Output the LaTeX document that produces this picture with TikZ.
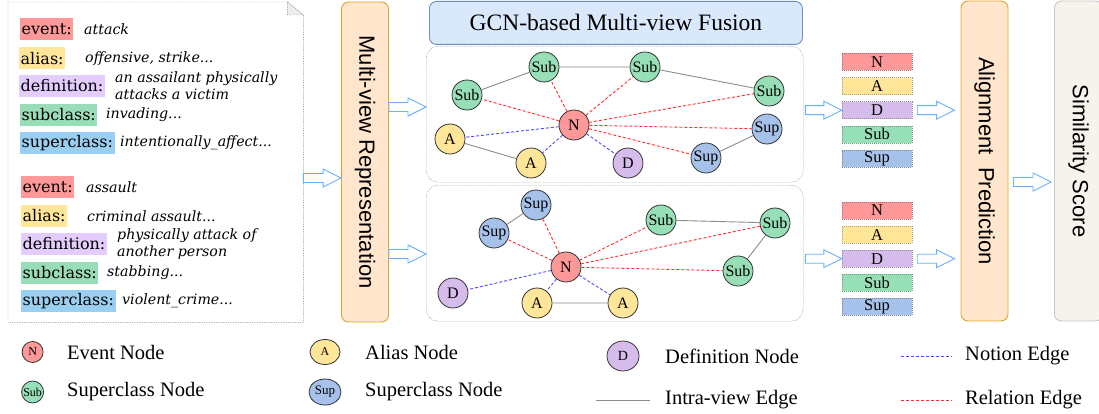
\documentclass[tikz,border=0pt]{standalone}
\usepackage{fontspec}
\setmainfont{Liberation Serif}
\setsansfont{Liberation Sans}
\newfontfamily\geofont{DejaVu Serif}
\usepackage{graphicx}
\usetikzlibrary{positioning,calc,shapes.geometric}
\definecolor{EvRed}{HTML}{FF9999}
\definecolor{AlYel}{HTML}{FFE699}
\definecolor{DefPur}{HTML}{E5CCFF}
\definecolor{SubGrn}{HTML}{99DDB8}
\definecolor{SupSky}{HTML}{9ACFF2}
\definecolor{NodeD}{HTML}{D5BCEB}
\definecolor{NodeSub}{HTML}{97DFB6}
\definecolor{NodeSup}{HTML}{A6C2EA}
\definecolor{StageFill}{HTML}{FFE6CC}
\definecolor{StageLine}{HTML}{DDA52A}
\definecolor{ScoreFill}{HTML}{F5F3EC}
\definecolor{ScoreLine}{HTML}{C8C8C8}
\definecolor{HeadFill}{HTML}{DAE8FC}
\definecolor{HeadLine}{HTML}{6C8EBF}
\definecolor{ArrBlue}{HTML}{66B2FF}
\definecolor{EdgeGray}{HTML}{8C8C8C}
\definecolor{RelRed}{HTML}{FF2E2E}
\definecolor{NotBlue}{HTML}{4A4AFF}
\definecolor{FrameGray}{HTML}{8A8A8A}

% hollow block arrow between two x positions, at the height of #3
\newcommand{\flexarr}[3]{%
  \draw[flexa] let \p1=(#1), \p2=(#2), \p3=(#3) in
    (\x1,\y3+4.5pt) -- (\x2-18pt,\y3+4.5pt) -- (\x2-18pt,\y3+9pt) -- (\x2,\y3)
    -- (\x2-18pt,\y3-9pt) -- (\x2-18pt,\y3-4.5pt) -- (\x1,\y3-4.5pt) -- cycle;}

\begin{document}
\begin{tikzpicture}[x=1pt,y=-1pt,
  lbl/.style={anchor=west,inner xsep=1.5pt,inner ysep=0pt,minimum height=22,font=\geofont\fontsize{16}{17}\selectfont},
  desc/.style={anchor=west,align=left,inner sep=0pt,font=\geofont\itshape\fontsize{14.2}{17}\selectfont},
  stage/.style={draw=StageLine,fill=StageFill,rounded corners=7pt,line width=0.9pt,minimum width=47,minimum height=320,inner sep=0pt,font=\sffamily\fontsize{22}{24}\selectfont},
  gbox/.style={draw=FrameGray,dash pattern=on 1.2pt off 1.2pt,rounded corners=12pt,minimum width=377,minimum height=136,anchor=north west,inner sep=0pt},
  gn/.style={circle,draw=black!80,line width=0.8pt,minimum size=30,inner sep=0pt,font=\fontsize{16}{16}\selectfont},
  stk/.style={dash pattern=on 1pt off 1pt,minimum width=70,minimum height=17,inner sep=0pt,font=\fontsize{16.5}{16.5}\selectfont},
  intra/.style={draw=EdgeGray,line width=0.9pt},
  rel/.style={draw=RelRed,line width=0.9pt,dash pattern=on 3pt off 2pt},
  notion/.style={draw=NotBlue,line width=0.9pt,dash pattern=on 3pt off 2pt},
  flexa/.style={draw=ArrBlue,fill=white,line width=0.9pt,line join=miter},
  legtxt/.style={anchor=west,inner sep=0pt,font=\fontsize{20.5}{22}\selectfont}
]
\useasboundingbox (0,0) rectangle (1099,414);

% input concepts
\node[minimum width=295,minimum height=320,anchor=north west,inner sep=0pt] (doc) at (8,2) {};
\draw[draw=FrameGray,dash pattern=on 1.2pt off 1.2pt] (doc.north west) -- ([xshift=-16pt]doc.north east)
  -- ([yshift=-13pt]doc.north east) -- (doc.south east) -- (doc.south west) -- cycle;
\filldraw[draw=FrameGray,fill=black!7,dash pattern=on 1.2pt off 1.2pt] ([xshift=-16pt]doc.north east)
  -- ([xshift=-16pt,yshift=-13pt]doc.north east) -- ([yshift=-13pt]doc.north east) -- cycle;

\node[lbl,fill=EvRed] (ev1) at (20,29) {event:};
\node[desc] (ev1t) at (84,29) {attack};
\node[lbl,fill=AlYel] (al1) at (19,58.5) {alias:};
\node[desc] (al1t) at (85,58.5) {offensive, strike...};
\node[lbl,fill=DefPur] (df1) at (19,86) {definition:};
\node[desc] (df1t) at (115,86) {an assailant physically\\attacks a victim};
\node[lbl,fill=SubGrn] (sb1) at (20,115) {subclass:};
\node[desc] (sb1t) at (106,115) {invading...};
\node[lbl,fill=SupSky] (sp1) at (20,143) {superclass:};
\node[desc] (sp1t) at (120,143) {intentionally\_affect...};

\node[lbl,fill=EvRed] (ev2) at (21,187) {event:};
\node[desc] (ev2t) at (86,187) {assault};
\node[lbl,fill=AlYel] (al2) at (21,216) {alias:};
\node[desc] (al2t) at (87,216) {criminal assault...};
\node[lbl,fill=DefPur] (df2) at (21,244) {definition:};
\node[desc] (df2t) at (117,244) {physically attack of\\another person};
\node[lbl,fill=SubGrn] (sb2) at (21,273) {subclass:};
\node[desc] (sb2t) at (107,273) {stabbing...};
\node[lbl,fill=SupSky] (sp2) at (21,301) {superclass:};
\node[desc] (sp2t) at (122,301) {violent\_crime...};

% stages
\node[stage] (mvr) at (365,162) {\rotatebox{-90}{Multi-view Representation}};
\node[stage] (align) at (984.5,161) {\rotatebox{-90}{Alignment\ \ Prediction}};
\node[stage,draw=ScoreLine,fill=ScoreFill,minimum width=48,anchor=west] (sim) at (1054,161) {\rotatebox{-90}{Similarity Score}};
\node[draw=HeadLine,fill=HeadFill,rounded corners=7pt,line width=0.9pt,minimum width=373,minimum height=43,anchor=north west,font=\fontsize{23.5}{24}\selectfont] (gcn) at (429,1) {GCN-based Multi-view Fusion};

% view graphs
\node[gbox] (g1) at (426,46) {};
\node[gbox] (g2) at (426,185) {};

\node[gn,fill=EvRed] (n1) at (574,125) {N};
\node[gn,fill=NodeSub] (s1) at (467,95) {Sub};
\node[gn,fill=NodeSub] (s2) at (544,67) {Sub};
\node[gn,fill=NodeSub] (s3) at (645,67) {Sub};
\node[gn,fill=NodeSub] (s4) at (769,91) {Sub};
\node[gn,fill=AlYel] (a1) at (450,139) {A};
\node[gn,fill=AlYel] (a2) at (531,163) {A};
\node[gn,fill=NodeD] (d1n) at (628,163) {D};
\node[gn,fill=NodeSup] (p1) at (767,129) {Sup};
\node[gn,fill=NodeSup] (p2) at (706,158) {Sup};
\draw[intra] (s1) -- (s2) (s2) -- (s3) (s3) -- (s4) (a1) -- (a2) (p2) -- (p1);
\draw[rel] (n1) -- (s1) (n1) -- (s2) (n1) -- (s3) (n1) -- (s4) (n1) -- (p1) (n1) -- (p2);
\draw[notion] (n1) -- (a1) (n1) -- (a2) (n1) -- (d1n);

\node[gn,fill=EvRed] (n2) at (566,267) {N};
\node[gn,fill=NodeSup] (q1) at (536,205) {Sup};
\node[gn,fill=NodeSup] (q2) at (494,233) {Sup};
\node[gn,fill=NodeSub] (t1) at (661,220) {Sub};
\node[gn,fill=NodeSub] (t2) at (775,223) {Sub};
\node[gn,fill=NodeSub] (t3) at (738,271) {Sub};
\node[gn,fill=NodeD] (d2n) at (453,293) {D};
\node[gn,fill=AlYel] (b1) at (537,303) {A};
\node[gn,fill=AlYel] (b2) at (623,303) {A};
\draw[intra] (q1) -- (q2) (t1) -- (t2) (t2) -- (t3) (b1) -- (b2);
\draw[rel] (n2) -- (q1) (n2) -- (q2) (n2) -- (t1) (n2) -- (t2) (n2) -- (t3);
\draw[notion] (n2) -- (d2n) (n2) -- (b1) (n2) -- (b2);

% view embeddings
\node[stk,fill=EvRed,draw=EvRed!70!black] (en1) at (877,62) {N};
\node[stk,fill=AlYel,draw=AlYel!70!black,below=6.7pt of en1] (ea1) {A};
\node[stk,fill=NodeD,draw=NodeD!70!black,below=6.7pt of ea1] (ed1) {D};
\node[stk,fill=NodeSub,draw=NodeSub!70!black,below=6.7pt of ed1] (es1) {Sub};
\node[stk,fill=NodeSup,draw=NodeSup!70!black,below=6.7pt of es1] (ep1) {Sup};
\node[stk,fill=EvRed,draw=EvRed!70!black] (en2) at (877,210.5) {N};
\node[stk,fill=AlYel,draw=AlYel!70!black,below=6.7pt of en2] (ea2) {A};
\node[stk,fill=NodeD,draw=NodeD!70!black,below=6.7pt of ea2] (ed2) {D};
\node[stk,fill=NodeSub,draw=NodeSub!70!black,below=6.7pt of ed2] (es2) {Sub};
\node[stk,fill=NodeSup,draw=NodeSup!70!black,below=6.7pt of es2] (ep2) {Sup};

% block arrows
\flexarr{doc.east}{mvr.west}{0,178}
\flexarr{mvr.east}{g1.west}{0,107}
\flexarr{mvr.east}{g2.west}{0,254}
\flexarr{[xshift=2pt]g1.east}{ed1.west}{ed1}
\flexarr{[xshift=2pt]g2.east}{ed2.west}{ed2}
\flexarr{[xshift=5pt]ed1.east}{[xshift=-6pt]align.west}{ed1}
\flexarr{[xshift=5pt]ed2.east}{[xshift=-6pt]align.west}{ed2}
\flexarr{[xshift=5pt]align.east}{[xshift=-3pt]sim.west}{0,182}

% legend
\node[gn,minimum size=21,font=\fontsize{12}{12}\selectfont,fill=EvRed] (lgn) at (32.6,352) {N};
\node[legtxt] (lgnt) at (67,352) {Event Node};
\node[gn,minimum size=22,font=\fontsize{12}{12}\selectfont,fill=NodeSub] (lgs) at (32.6,392) {Sub};
\node[legtxt] (lgst) at (67,392) {Superclass Node};
\node[gn,ellipse,minimum width=30,minimum height=25,font=\fontsize{12}{12}\selectfont,fill=AlYel] (lga) at (325,352) {A};
\node[legtxt] (lgat) at (365,352) {Alias Node};
\node[gn,ellipse,minimum width=32,minimum height=26,font=\fontsize{13}{13}\selectfont,fill=NodeSup] (lgp) at (325,392) {Sup};
\node[legtxt] (lgpt) at (365,392) {Superclass Node};
\node[gn,ellipse,minimum width=32,minimum height=30,font=\fontsize{14}{14}\selectfont,fill=NodeD] (lgd) at (623,356) {D};
\node[legtxt] (lgdt) at (665,356) {Definition Node};
\coordinate (lgi0) at (596,400);
\coordinate (lgi1) at (650,400);
\draw[intra] (lgi0) -- (lgi1);
\node[legtxt] (lgit) at (665,400) {Intra-view Edge};
\coordinate (lgb0) at (901,356);
\coordinate (lgb1) at (952,356);
\draw[notion] (lgb0) -- (lgb1);
\node[legtxt] (lgbt) at (965,356) {Notion Edge};
\coordinate (lgr0) at (901,400);
\coordinate (lgr1) at (952,400);
\draw[rel] (lgr0) -- (lgr1);
\node[legtxt] (lgrt) at (965,400) {Relation Edge};
\end{tikzpicture}
\end{document}
